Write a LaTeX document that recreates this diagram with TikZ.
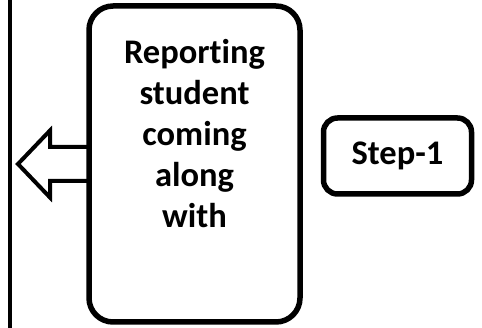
\documentclass[tikz,border=0pt]{standalone}
\usepackage{fontspec}
\setmainfont[Ligatures=NoCommon]{Carlito}
\usetikzlibrary{calc,positioning}

\tikzset{
  boxtext/.style={align=center, inner sep=0pt, font=\bfseries\fontsize{34.5}{41}\selectfont},
  reportbox/.style={draw, line width=5.5pt, rounded corners=24pt, outer sep=0pt,
    minimum width=211pt, minimum height=316pt},
  stepbox/.style={draw, line width=5.5pt, rounded corners=14pt, outer sep=0pt,
    minimum width=148pt, minimum height=76pt, boxtext},
  edgeline/.style={line width=4.5pt},
  hollowarrow/.style={line width=4pt, line join=miter}
}

\begin{document}
\begin{tikzpicture}[x=1pt, y=1pt]
\useasboundingbox (0,0) rectangle (482,328);

% Left edge line
\coordinate (edgetop) at (10,328);
\coordinate (edgebot) at (10,0);
\draw[edgeline] (edgetop) -- (edgebot);

% Boxes
\node[reportbox] (report) at (194.5,164) {};
\node[stepbox] (step) at (397.5,172) {Step-1};

% Box text (base sits on the last line)
\node[boxtext, anchor=base] (reporttext) at ($(report.south)+(0,94)$)
  {Reporting\\student\\coming\\along\\with};

% Hollow arrow out of the box
\coordinate (tip) at ($(report.west)+(-71,0)$);
\draw[hollowarrow] ($(report.west)+(0,17)$) -- ++(-39,0) -- ++(0,16.5)
  -- (tip) -- ($(report.west)+(-39,-33.5)$) -- ++(0,16.5)
  -- ($(report.west)+(0,-17)$);

\end{tikzpicture}
\end{document}
